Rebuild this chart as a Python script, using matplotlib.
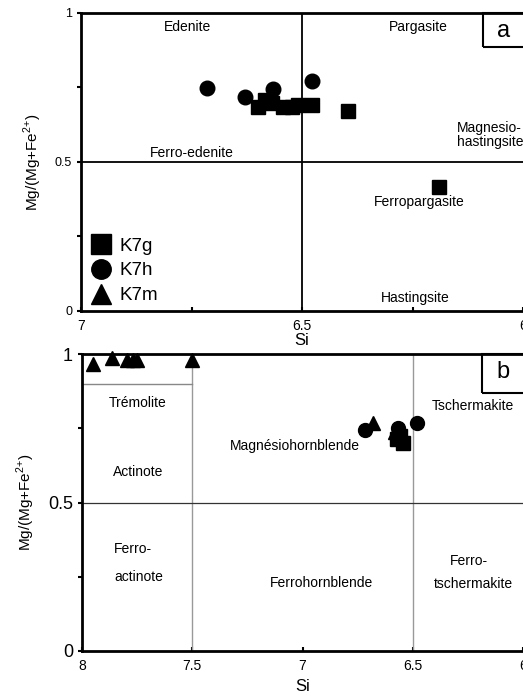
import matplotlib
matplotlib.use('Agg')
import matplotlib.pyplot as plt
from matplotlib.lines import Line2D
from matplotlib.patches import Rectangle

plt.rcParams['font.family'] = ['Liberation Sans', 'DejaVu Sans']

# panel a: Si vs Mg/(Mg+Fe2+)
a_k7g_si = [6.600, 6.584, 6.568, 6.543, 6.523, 6.509, 6.477, 6.396, 6.190]
a_k7g_mg = [0.685, 0.708, 0.698, 0.685, 0.685, 0.691, 0.691, 0.671, 0.416]
a_k7h_si = [6.715, 6.629, 6.566, 6.477]
a_k7h_mg = [0.748, 0.718, 0.745, 0.770]

# panel b
b_k7g_si = [6.571, 6.544, 6.560]
b_k7g_mg = [0.715, 0.700, 0.725]
b_k7h_si = [6.717, 6.567, 6.481]
b_k7h_mg = [0.744, 0.751, 0.768]
b_k7m_si = [7.950, 7.864, 7.796, 7.769, 7.750, 7.501, 6.680, 6.580]
b_k7m_mg = [0.966, 0.986, 0.980, 0.980, 0.980, 0.980, 0.768, 0.737]

samples = ['K7g', 'K7h', 'K7m']
markers = ['s', 'o', '^']

a_fields = [('Edenite', 6.76, 0.953), ('Pargasite', 6.238, 0.953),
            ('Ferro-edenite', 6.749, 0.53), ('Ferropargasite', 6.235, 0.366),
            ('Hastingsite', 6.244, 0.044)]
b_fields = [('Trémolite', 7.746, 0.835), ('Actinote', 7.746, 0.603),
            ('Magnésiohornblende', 7.034, 0.69), ('Tschermakite', 6.227, 0.825),
            ('Ferrohornblende', 6.916, 0.229), ('Ferro-', 6.245, 0.303),
            ('tschermakite', 6.227, 0.226)]

ylab = r'Mg/(Mg+Fe$^{\mathregular{2{+}}}$)'

fig = plt.figure(figsize=(5.23, 6.97), dpi=100)
ax1 = fig.add_axes([0.155, 0.554, 0.845, 0.4276])
ax2 = fig.add_axes([0.157, 0.066, 0.843, 0.426])


def style(ax):
    for s in ['left', 'bottom', 'top']:
        ax.spines[s].set_linewidth(2)
    ax.spines['right'].set_visible(False)
    ax.set_ylim(0, 1)
    ax.set_ylabel(ylab, fontsize=11, labelpad=8)
    ax.tick_params(axis='x', direction='in', length=3, width=1.5, pad=6)
    ax.tick_params(axis='y', direction='out', length=3, width=1.5)


# ---- panel a
ax = ax1
ax.set_xlim(7, 6)
style(ax)
ax.set_xlabel('Si', fontsize=12, labelpad=0)
ax.set_xticks([7, 6.75, 6.5, 6.25, 6])
ax.set_xticklabels(['7', '', '6.5', '', '6'], fontsize=10)
ax.set_yticks([0, 0.25, 0.5, 0.75, 1])
ax.set_yticklabels(['0', '', '0.5', '', '1'], fontsize=9)
ax.axvline(6.5, color='black', lw=1.3)
ax.axhline(0.5, color='black', lw=1.3)
for name, x, y in a_fields:
    ax.text(x, y, name, fontsize=10, ha='center', va='center')
ax.text(6.149, 0.59, 'Magnesio-\nhastingsite', fontsize=10, ha='left', va='center',
        linespacing=1.0)
ax.plot(a_k7g_si, a_k7g_mg, 's', color='black', ms=10.5, ls='none')
ax.plot(a_k7h_si, a_k7h_mg, 'o', color='black', ms=10.5, ls='none')
ax.add_patch(Rectangle((0.909, 0.886), 0.2, 0.114, transform=ax.transAxes,
                       fill=False, lw=1.5, clip_on=False))
ax.text(0.955, 0.94, 'a', transform=ax.transAxes, fontsize=17, ha='center', va='center')
handles = [Line2D([], [], marker=m, color='black', ls='none', ms=14) for m in markers]
ax.legend(handles, samples, loc='lower left', bbox_to_anchor=(-0.005, -0.015),
          frameon=False, fontsize=13.5, handletextpad=0.35, labelspacing=0.4,
          handlelength=1.2, borderaxespad=0.2)

# ---- panel b
ax = ax2
ax.set_xlim(8, 6)
style(ax)
ax.set_xlabel('Si', fontsize=12, labelpad=4)
ax.set_xticks([8, 7.5, 7, 6.5, 6])
ax.set_xticklabels(['8', '7.5', '7', '6.5', '6'], fontsize=10)
ax.set_yticks([0, 0.25, 0.5, 0.75, 1])
ax.set_yticklabels(['0', '', '0.5', '', '1'], fontsize=13)
ax.axvline(7.5, color='#999999', lw=1)
ax.axvline(6.5, color='#999999', lw=1)
ax.axhline(0.5, color='#333333', lw=0.9)
ax.plot([8, 7.5], [0.9, 0.9], color='#888888', lw=1)
for name, x, y in b_fields:
    ax.text(x, y, name, fontsize=10, ha='center', va='center')
ax.text(7.855, 0.343, 'Ferro-', fontsize=10, ha='left', va='center')
ax.text(7.855, 0.249, 'actinote', fontsize=10, ha='left', va='center')
ax.plot(b_k7g_si, b_k7g_mg, 's', color='black', ms=10, ls='none')
ax.plot(b_k7h_si, b_k7h_mg, 'o', color='black', ms=10, ls='none')
ax.plot(b_k7m_si, b_k7m_mg, '^', color='black', ms=10, ls='none', clip_on=False)
ax.add_patch(Rectangle((0.907, 0.869), 0.2, 0.131, transform=ax.transAxes,
                       fill=False, lw=1.5, clip_on=False))
ax.text(0.955, 0.94, 'b', transform=ax.transAxes, fontsize=17, ha='center', va='center')

fig.savefig('out.png', dpi=100)
